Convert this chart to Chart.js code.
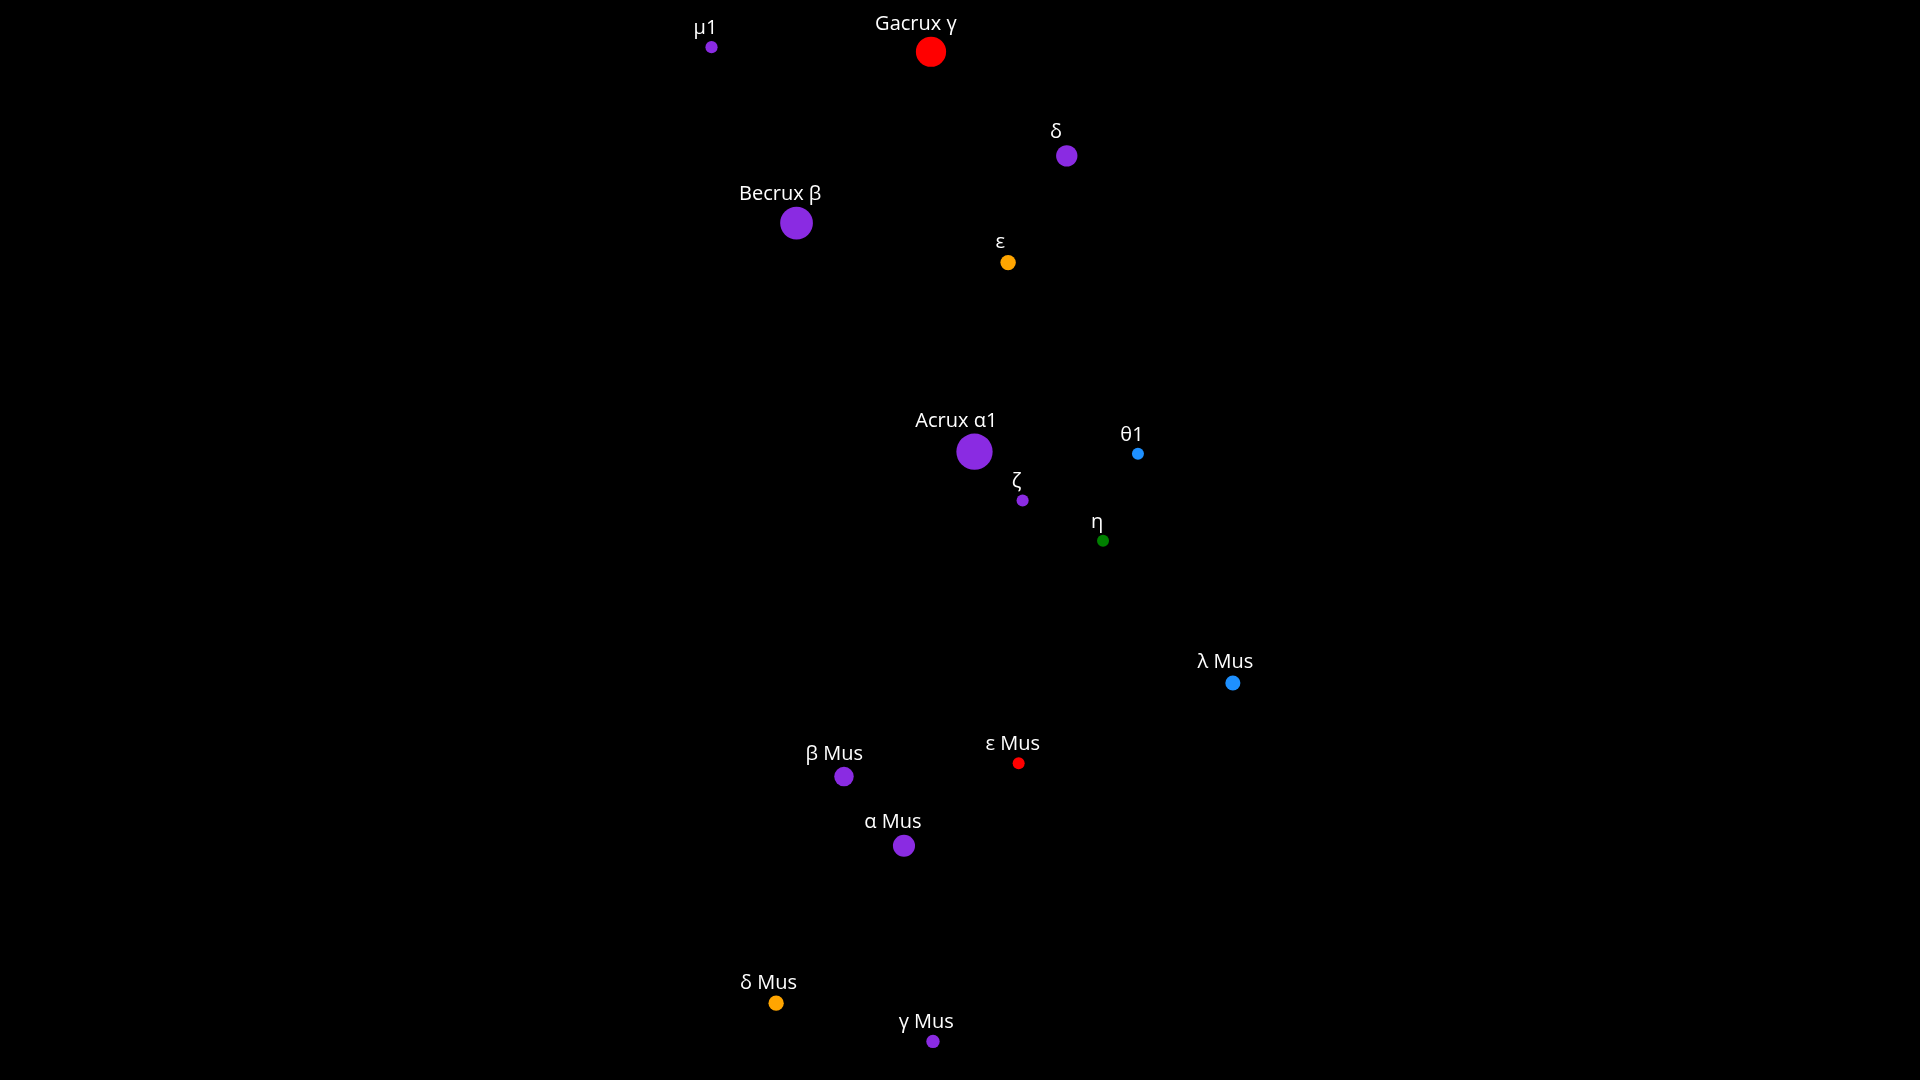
<!DOCTYPE html>
<html>
<head>
<meta charset="utf-8">
<title>Crux and Musca</title>
<script src="https://cdn.jsdelivr.net/npm/chart.js@4/dist/chart.umd.min.js"></script>
<style>
  html, body { margin: 0; padding: 0; background: #000; }
  #wrap { width: 1920px; height: 1080px; }
</style>
</head>
<body>
<div id="wrap"><canvas id="skyChart"></canvas></div>
<script>
// star names, projected east-west offset (deg, east positive), declination (deg)
const names = ['µ1', 'Gacrux γ', 'δ', 'Becrux β', 'ε', 'Acrux α1', 'θ1', 'ζ', 'η',
  'λ Mus', 'ε Mus', 'β Mus', 'α Mus', 'δ Mus', 'γ Mus'];
const offsets = [3.77, 0.44, -1.62, 2.48, -0.73, -0.22, -2.70, -0.95, -2.17,
  -4.14, -0.89, 1.76, 0.85, 2.79, 0.41];
const decs = [-57.04, -57.11, -58.69, -59.71, -60.31, -63.18, -63.21, -63.92, -64.53,
  -66.69, -67.91, -68.11, -69.16, -71.55, -72.13];
const mags = [4.03, 1.59, 2.79, 1.25, 3.59, 0.77, 4.33, 4.04, 4.14,
  3.64, 4.06, 3.04, 2.69, 3.61, 3.87];
const spectral = ['B', 'M', 'B', 'B', 'K', 'B', 'A', 'B', 'F',
  'A', 'M', 'B', 'B', 'K', 'B'];

const classColors = { B: '#8a2be2', A: '#1e90ff', F: '#008000', K: '#ffa500', M: '#ff0000' };

function magToRadius(m) {
  return Math.max(6, 21 - 3.7 * m);
}

const points = names.map((n, i) => ({ x: offsets[i], y: decs[i], r: magToRadius(mags[i]), name: n }));

const starLabels = {
  id: 'starLabels',
  afterDatasetsDraw(chart) {
    const ctx = chart.ctx;
    const meta = chart.getDatasetMeta(0);
    ctx.save();
    ctx.fillStyle = '#ffffff';
    ctx.font = '20px "Open Sans", sans-serif';
    ctx.textAlign = 'center';
    ctx.textBaseline = 'alphabetic';
    meta.data.forEach((el, i) => {
      const r = el.options.radius;
      ctx.fillText(names[i], el.x - r, el.y - r - 7);
    });
    ctx.restore();
  }
};

const bg = {
  id: 'bg',
  beforeDraw(chart) {
    const ctx = chart.ctx;
    ctx.save();
    ctx.fillStyle = '#000';
    ctx.fillRect(0, 0, chart.width, chart.height);
    ctx.restore();
  }
};

new Chart(document.getElementById('skyChart').getContext('2d'), {
  type: 'bubble',
  data: {
    datasets: [{
      data: points,
      backgroundColor: spectral.map(s => classColors[s]),
      borderWidth: 0,
      hoverBorderWidth: 0
    }]
  },
  options: {
    responsive: true,
    maintainAspectRatio: false,
    animation: false,
    layout: { padding: 0 },
    scales: {
      x: { type: 'linear', reverse: true, min: -14.29, max: 14.29, display: false },
      y: { type: 'linear', min: -72.44, max: -56.60, display: false }
    },
    plugins: {
      legend: { display: false },
      tooltip: { enabled: false }
    }
  },
  plugins: [bg, starLabels]
});
</script>
</body>
</html>
